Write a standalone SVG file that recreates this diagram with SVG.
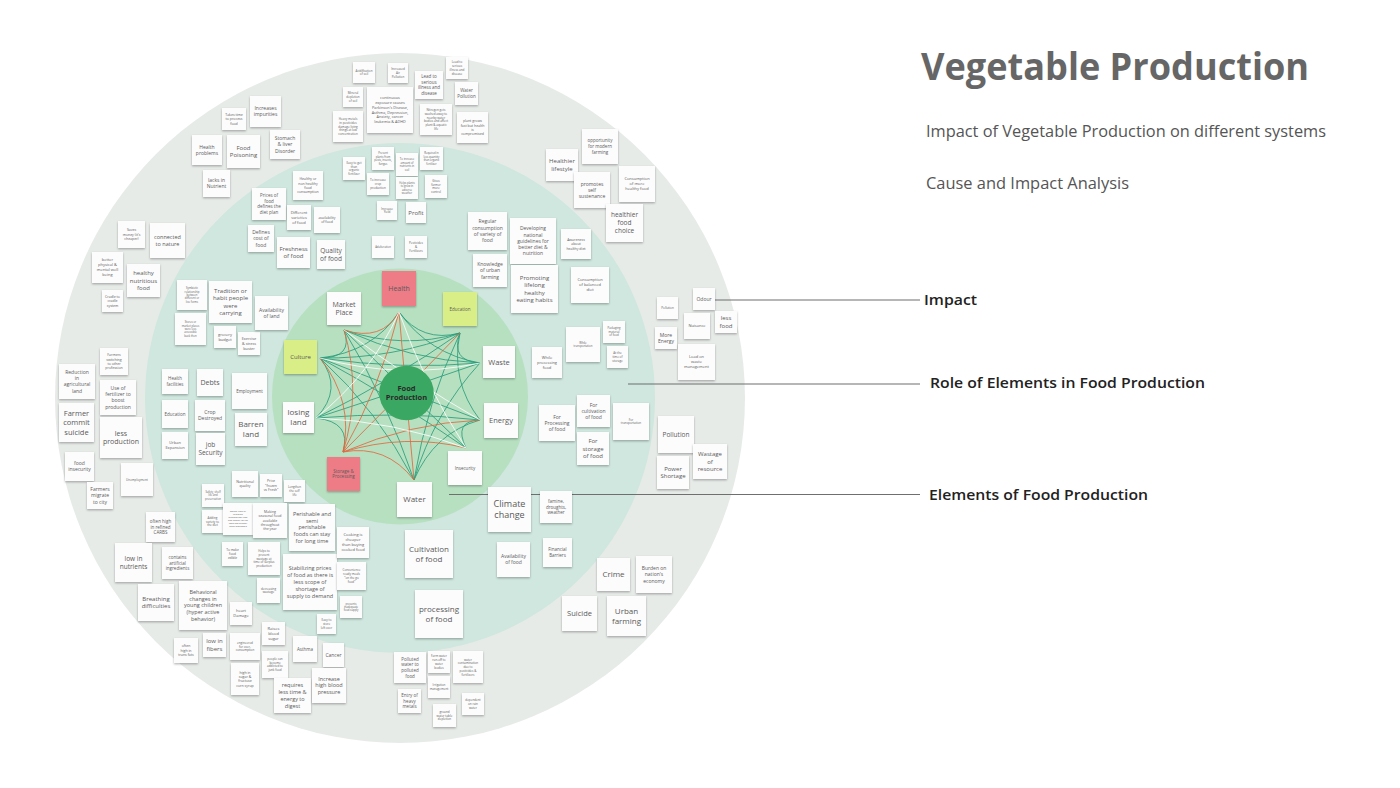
<svg xmlns="http://www.w3.org/2000/svg" width="1400" height="788" viewBox="0 0 1400 788">
<defs>
<filter id="sh" x="-20%" y="-20%" width="140%" height="150%"><feDropShadow dx="0" dy="1.2" stdDeviation="0.8" flood-color="#000" flood-opacity="0.3"/></filter>
<style>
.n rect{fill:#fcfcfc;filter:url(#sh)}
.n text{font-family:'Open Sans','Liberation Sans',sans-serif;fill:#5a5a5a;text-anchor:middle}
.red rect{fill:#ee7b86}
.yel rect{fill:#d9ee86}
.lbl{font-family:'Open Sans','Liberation Sans',sans-serif;fill:#222;font-weight:600;font-size:15px}
.sub{font-family:'Open Sans','Liberation Sans',sans-serif;fill:#555;font-size:16px}
.cl{stroke:#6f6f6f;stroke-width:1.2;fill:none}
.t{fill:none;stroke:#2a9d7a;stroke-width:1;opacity:.85}
.o{fill:none;stroke:#e0683f;stroke-width:1;opacity:.85}
.w{fill:none;stroke:#ffffff;stroke-width:1;opacity:.8}
</style>
</defs>
<rect width="1400" height="788" fill="#ffffff"/>
<g id="rings">
<circle cx="400" cy="398" r="345" fill="#e7ebe8"/>
<circle cx="400" cy="398" r="255" fill="#cfe7de"/>
<circle cx="400" cy="396.5" r="128" fill="#b7e0c1"/>
</g>
<g id="connectors">
<path class="t" d="M399,312 Q422,343 460,333"/>
<path class="t" d="M399,312 Q373,352 320,358"/>
<path class="t" d="M399,312 Q429,354 480,363"/>
<path class="t" d="M344,330 Q403,350 460,333"/>
<path class="t" d="M344,330 Q410,360 480,363"/>
<path class="t" d="M320,358 Q394,359 460,333"/>
<path class="t" d="M320,358 Q401,370 480,363"/>
<path class="t" d="M320,358 Q401,390 480,420"/>
<path class="t" d="M320,358 Q397,400 466,448"/>
<path class="t" d="M460,333 Q393,380 316,418"/>
<path class="t" d="M460,333 Q427,402 414,480"/>
<path class="t" d="M460,333 Q450,381 480,420"/>
<path class="t" d="M316,418 Q400,411 480,420"/>
<path class="t" d="M316,418 Q400,391 480,363"/>
<path class="t" d="M480,363 Q434,413 414,480"/>
<path class="t" d="M480,420 Q434,433 414,480"/>
<path class="t" d="M414,480 Q387,401 344,330"/>
<path class="t" d="M466,448 Q405,390 344,330"/>
<path class="t" d="M414,480 Q378,411 320,358"/>
<path class="t" d="M316,418 Q344,389 320,358"/>
<path class="t" d="M460,333 Q450,361 480,363"/>
<path class="t" d="M344,330 Q354,358 320,358"/>
<path class="t" d="M480,420 Q453,421 466,448"/>
<path class="t" d="M316,418 Q352,422 343,452"/>
<path class="o" d="M399,312 Q381,385 343,452"/>
<path class="o" d="M344,330 Q362,391 343,452"/>
<path class="o" d="M320,358 Q354,401 343,452"/>
<path class="o" d="M343,452 Q386,444 414,480"/>
<path class="o" d="M343,452 Q410,423 480,420"/>
<path class="o" d="M343,452 Q403,392 460,333"/>
<path class="o" d="M343,452 Q405,433 466,448"/>
<path class="o" d="M399,312 Q406,395 414,480"/>
<path class="o" d="M399,312 Q382,342 344,330"/>
<path class="w" d="M320,358 Q401,380 480,363"/>
<path class="w" d="M316,418 Q395,421 466,448"/>
<path class="w" d="M344,330 Q410,380 480,420"/>
<path class="w" d="M399,312 Q372,373 316,418"/>
<path class="w" d="M399,312 Q424,384 466,448"/>
<line class="cl" x1="700" y1="300" x2="920" y2="300"/>
<line class="cl" x1="628" y1="384" x2="920" y2="384"/>
<line class="cl" x1="449" y1="494.5" x2="920" y2="494.5"/>
</g>
<g id="center">
<circle cx="406.5" cy="393" r="27.3" fill="#3aa862"/>
<text x="406.5" y="393" font-family="'Open Sans','Liberation Sans',sans-serif" font-weight="700" font-size="7.5" fill="#2a2a2a" text-anchor="middle"><tspan x="406.5" dy="-.3em">Food</tspan><tspan x="406.5" dy="1.2em">Production</tspan></text>
</g>
<g id="titles">
<text x="921" y="80" font-family="'Open Sans','Liberation Sans',sans-serif" font-weight="700" font-size="38" fill="#666" textLength="388" lengthAdjust="spacingAndGlyphs">Vegetable Production</text>
<text class="sub" x="926" y="137" textLength="400" lengthAdjust="spacingAndGlyphs">Impact of Vegetable Production on different systems</text>
<text class="sub" x="926" y="189" textLength="203" lengthAdjust="spacingAndGlyphs">Cause and Impact Analysis</text>
<text class="lbl" x="924" y="305" textLength="53" lengthAdjust="spacingAndGlyphs">Impact</text>
<text class="lbl" x="930" y="388" textLength="275" lengthAdjust="spacingAndGlyphs">Role of Elements in Food Production</text>
<text class="lbl" x="929" y="500" textLength="219" lengthAdjust="spacingAndGlyphs">Elements of Food Production</text>
</g>
<g id="notes">
<g id="n1" class="n"><rect x="222" y="108" width="24" height="22"/><text x="234" y="119" font-size="3.5"><tspan x="234" dy="-.9em">Takes time</tspan><tspan x="234" dy="1.25em">to process</tspan><tspan x="234" dy="1.25em">food</tspan></text></g>
<g id="n2" class="n"><rect x="250" y="96" width="31" height="31"/><text x="265.5" y="111.5" font-size="5"><tspan x="265.5" dy="-.275em">Increases</tspan><tspan x="265.5" dy="1.25em">impurities</tspan></text></g>
<g id="n3" class="n"><rect x="270" y="130" width="30" height="29"/><text x="285" y="144.5" font-size="5"><tspan x="285" dy="-.9em">Stomach</tspan><tspan x="285" dy="1.25em">&amp; liver</tspan><tspan x="285" dy="1.25em">Disorder</tspan></text></g>
<g id="n4" class="n"><rect x="192" y="135" width="30" height="30"/><text x="207" y="150" font-size="5"><tspan x="207" dy="-.275em">Health</tspan><tspan x="207" dy="1.25em">problems</tspan></text></g>
<g id="n5" class="n"><rect x="227" y="135" width="33" height="33"/><text x="243.5" y="151.5" font-size="6"><tspan x="243.5" dy="-.275em">Food</tspan><tspan x="243.5" dy="1.25em">Poisoning</tspan></text></g>
<g id="n6" class="n"><rect x="203" y="170" width="27" height="27"/><text x="216.5" y="183.5" font-size="5"><tspan x="216.5" dy="-.275em">lacks in</tspan><tspan x="216.5" dy="1.25em">Nutrient</tspan></text></g>
<g id="n7" class="n"><rect x="118" y="221" width="27" height="27"/><text x="131.5" y="234.5" font-size="3.5"><tspan x="131.5" dy="-.9em">Saves</tspan><tspan x="131.5" dy="1.25em">money (it's</tspan><tspan x="131.5" dy="1.25em">cheaper)</tspan></text></g>
<g id="n8" class="n"><rect x="150" y="223" width="35" height="35"/><text x="167.5" y="240.5" font-size="5.5"><tspan x="167.5" dy="-.275em">connected</tspan><tspan x="167.5" dy="1.25em">to nature</tspan></text></g>
<g id="n9" class="n"><rect x="92" y="252" width="31" height="31"/><text x="107.5" y="267.5" font-size="4"><tspan x="107.5" dy="-1.525em">better</tspan><tspan x="107.5" dy="1.25em">physical &amp;</tspan><tspan x="107.5" dy="1.25em">mental well</tspan><tspan x="107.5" dy="1.25em">being</tspan></text></g>
<g id="n10" class="n"><rect x="127" y="264" width="33" height="33"/><text x="143.5" y="280.5" font-size="6"><tspan x="143.5" dy="-.9em">healthy</tspan><tspan x="143.5" dy="1.25em">nutritious</tspan><tspan x="143.5" dy="1.25em">food</tspan></text></g>
<g id="n11" class="n"><rect x="102" y="290" width="21" height="22"/><text x="112.5" y="301" font-size="3.5"><tspan x="112.5" dy="-.9em">Cradle to</tspan><tspan x="112.5" dy="1.25em">cradle</tspan><tspan x="112.5" dy="1.25em">system</tspan></text></g>
<g id="n12" class="n"><rect x="100" y="348" width="28" height="27"/><text x="114" y="361.5" font-size="3.5"><tspan x="114" dy="-1.525em">Farmers</tspan><tspan x="114" dy="1.25em">switching</tspan><tspan x="114" dy="1.25em">to other</tspan><tspan x="114" dy="1.25em">profession</tspan></text></g>
<g id="n13" class="n"><rect x="59" y="364" width="36" height="35"/><text x="77" y="381.5" font-size="5"><tspan x="77" dy="-1.525em">Reduction</tspan><tspan x="77" dy="1.25em">in</tspan><tspan x="77" dy="1.25em">agricultural</tspan><tspan x="77" dy="1.25em">land</tspan></text></g>
<g id="n14" class="n"><rect x="100" y="380" width="36" height="35"/><text x="118" y="397.5" font-size="5"><tspan x="118" dy="-1.525em">Use of</tspan><tspan x="118" dy="1.25em">fertilizer to</tspan><tspan x="118" dy="1.25em">boost</tspan><tspan x="118" dy="1.25em">production</tspan></text></g>
<g id="n15" class="n"><rect x="59" y="403" width="35" height="39"/><text x="76.5" y="422.5" font-size="7.5"><tspan x="76.5" dy="-.9em">Farmer</tspan><tspan x="76.5" dy="1.25em">commit</tspan><tspan x="76.5" dy="1.25em">suicide</tspan></text></g>
<g id="n16" class="n"><rect x="100" y="417" width="42" height="41"/><text x="121" y="437.5" font-size="7"><tspan x="121" dy="-.275em">less</tspan><tspan x="121" dy="1.25em">production</tspan></text></g>
<g id="n17" class="n"><rect x="65" y="452" width="29" height="29"/><text x="79.5" y="466.5" font-size="5"><tspan x="79.5" dy="-.275em">food</tspan><tspan x="79.5" dy="1.25em">insecurity</tspan></text></g>
<g id="n18" class="n"><rect x="121" y="463" width="32" height="33"/><text x="137" y="479.5" font-size="3"><tspan x="137" dy=".35em">Unemployment</tspan></text></g>
<g id="n19" class="n"><rect x="87" y="482" width="26" height="27"/><text x="100" y="495.5" font-size="5"><tspan x="100" dy="-.9em">Farmers</tspan><tspan x="100" dy="1.25em">migrate</tspan><tspan x="100" dy="1.25em">to city</tspan></text></g>
<g id="n20" class="n"><rect x="146" y="512" width="29" height="30"/><text x="160.5" y="527" font-size="4.5"><tspan x="160.5" dy="-.9em">often high</tspan><tspan x="160.5" dy="1.25em">in refined</tspan><tspan x="160.5" dy="1.25em">CARBS</tspan></text></g>
<g id="n21" class="n"><rect x="115" y="543" width="37" height="39"/><text x="133.5" y="562.5" font-size="6.5"><tspan x="133.5" dy="-.275em">low in</tspan><tspan x="133.5" dy="1.25em">nutrients</tspan></text></g>
<g id="n22" class="n"><rect x="162" y="547" width="31" height="32"/><text x="177.5" y="563" font-size="4.5"><tspan x="177.5" dy="-.9em">contains</tspan><tspan x="177.5" dy="1.25em">artificial</tspan><tspan x="177.5" dy="1.25em">ingredients</tspan></text></g>
<g id="n23" class="n"><rect x="138" y="584" width="36" height="37"/><text x="156" y="602.5" font-size="6"><tspan x="156" dy="-.275em">Breathing</tspan><tspan x="156" dy="1.25em">difficulties</tspan></text></g>
<g id="n24" class="n"><rect x="179" y="581" width="48" height="49"/><text x="203" y="605.5" font-size="5.5"><tspan x="203" dy="-2.15em">Behavioral</tspan><tspan x="203" dy="1.25em">changes in</tspan><tspan x="203" dy="1.25em">young children</tspan><tspan x="203" dy="1.25em">(hyper active</tspan><tspan x="203" dy="1.25em">behavior)</tspan></text></g>
<g id="n25" class="n"><rect x="230" y="602" width="22" height="23"/><text x="241" y="613.5" font-size="4"><tspan x="241" dy="-.275em">heart</tspan><tspan x="241" dy="1.25em">Damage</tspan></text></g>
<g id="n26" class="n"><rect x="262" y="622" width="23" height="23"/><text x="273.5" y="633.5" font-size="4"><tspan x="273.5" dy="-.9em">Raises</tspan><tspan x="273.5" dy="1.25em">blood</tspan><tspan x="273.5" dy="1.25em">sugar</tspan></text></g>
<g id="n27" class="n"><rect x="203" y="633" width="23" height="24"/><text x="214.5" y="645" font-size="6"><tspan x="214.5" dy="-.275em">low in</tspan><tspan x="214.5" dy="1.25em">fibers</tspan></text></g>
<g id="n28" class="n"><rect x="174" y="638" width="24" height="25"/><text x="186" y="650.5" font-size="3.5"><tspan x="186" dy="-.9em">often</tspan><tspan x="186" dy="1.25em">high in</tspan><tspan x="186" dy="1.25em">trans fats</tspan></text></g>
<g id="n29" class="n"><rect x="230" y="633" width="30" height="27"/><text x="245" y="646.5" font-size="3"><tspan x="245" dy="-.9em">engineered</tspan><tspan x="245" dy="1.25em">for over-</tspan><tspan x="245" dy="1.25em">consumption</tspan></text></g>
<g id="n30" class="n"><rect x="262" y="651" width="26" height="27"/><text x="275" y="664.5" font-size="3"><tspan x="275" dy="-1.525em">people can</tspan><tspan x="275" dy="1.25em">become</tspan><tspan x="275" dy="1.25em">addicted to</tspan><tspan x="275" dy="1.25em">junk food</tspan></text></g>
<g id="n31" class="n"><rect x="231" y="663" width="28" height="32"/><text x="245" y="679" font-size="3.5"><tspan x="245" dy="-1.525em">high in</tspan><tspan x="245" dy="1.25em">sugar &amp;</tspan><tspan x="245" dy="1.25em">fructose</tspan><tspan x="245" dy="1.25em">corn syrup</tspan></text></g>
<g id="n32" class="n"><rect x="274" y="678" width="37" height="35"/><text x="292.5" y="695.5" font-size="5.5"><tspan x="292.5" dy="-1.525em">requires</tspan><tspan x="292.5" dy="1.25em">less time &amp;</tspan><tspan x="292.5" dy="1.25em">energy to</tspan><tspan x="292.5" dy="1.25em">digest</tspan></text></g>
<g id="n33" class="n"><rect x="293" y="636" width="24" height="26"/><text x="305" y="649" font-size="4.5"><tspan x="305" dy=".35em">Asthma</tspan></text></g>
<g id="n34" class="n"><rect x="323" y="643" width="21" height="24"/><text x="333.5" y="655" font-size="5"><tspan x="333.5" dy=".35em">Cancer</tspan></text></g>
<g id="n35" class="n"><rect x="312" y="668" width="34" height="35"/><text x="329" y="685.5" font-size="5.5"><tspan x="329" dy="-.9em">Increase</tspan><tspan x="329" dy="1.25em">high blood</tspan><tspan x="329" dy="1.25em">pressure</tspan></text></g>
<g id="n36" class="n"><rect x="394" y="652" width="32" height="31"/><text x="410" y="667.5" font-size="4.5"><tspan x="410" dy="-1.525em">Polluted</tspan><tspan x="410" dy="1.25em">water to</tspan><tspan x="410" dy="1.25em">polluted</tspan><tspan x="410" dy="1.25em">food</tspan></text></g>
<g id="n37" class="n"><rect x="428" y="651" width="22" height="22"/><text x="439" y="662" font-size="3"><tspan x="439" dy="-1.525em">Farm water</tspan><tspan x="439" dy="1.25em">run-off to</tspan><tspan x="439" dy="1.25em">water</tspan><tspan x="439" dy="1.25em">bodies</tspan></text></g>
<g id="n38" class="n"><rect x="453" y="651" width="30" height="32"/><text x="468" y="667" font-size="3"><tspan x="468" dy="-2.15em">water</tspan><tspan x="468" dy="1.25em">contamination</tspan><tspan x="468" dy="1.25em">due to</tspan><tspan x="468" dy="1.25em">pesticides &amp;</tspan><tspan x="468" dy="1.25em">fertilizers</tspan></text></g>
<g id="n39" class="n"><rect x="428" y="676" width="22" height="22"/><text x="439" y="687" font-size="3"><tspan x="439" dy="-.275em">Irrigation</tspan><tspan x="439" dy="1.25em">management</tspan></text></g>
<g id="n40" class="n"><rect x="398" y="689" width="23" height="24"/><text x="409.5" y="701" font-size="4.5"><tspan x="409.5" dy="-.9em">Entry of</tspan><tspan x="409.5" dy="1.25em">heavy</tspan><tspan x="409.5" dy="1.25em">metals</tspan></text></g>
<g id="n41" class="n"><rect x="462" y="693" width="22" height="22"/><text x="473" y="704" font-size="3"><tspan x="473" dy="-.9em">dependent</tspan><tspan x="473" dy="1.25em">on rain</tspan><tspan x="473" dy="1.25em">water</tspan></text></g>
<g id="n42" class="n"><rect x="433" y="704" width="23" height="23"/><text x="444.5" y="715.5" font-size="3"><tspan x="444.5" dy="-.9em">ground</tspan><tspan x="444.5" dy="1.25em">water table</tspan><tspan x="444.5" dy="1.25em">depletion</tspan></text></g>
<g id="n43" class="n"><rect x="597" y="558" width="33" height="33"/><text x="613.5" y="574.5" font-size="8"><tspan x="613.5" dy=".35em">Crime</tspan></text></g>
<g id="n44" class="n"><rect x="636" y="556" width="36" height="37"/><text x="654" y="574.5" font-size="5"><tspan x="654" dy="-.9em">Burden on</tspan><tspan x="654" dy="1.25em">nation's</tspan><tspan x="654" dy="1.25em">economy</tspan></text></g>
<g id="n45" class="n"><rect x="562" y="596" width="35" height="35"/><text x="579.5" y="613.5" font-size="7.5"><tspan x="579.5" dy=".35em">Suicide</tspan></text></g>
<g id="n46" class="n"><rect x="607" y="596" width="39" height="40"/><text x="626.5" y="616" font-size="8"><tspan x="626.5" dy="-.275em">Urban</tspan><tspan x="626.5" dy="1.25em">farming</tspan></text></g>
<g id="n47" class="n"><rect x="658" y="416" width="36" height="37"/><text x="676" y="434.5" font-size="6.5"><tspan x="676" dy=".35em">Pollution</tspan></text></g>
<g id="n48" class="n"><rect x="657" y="456" width="32" height="33"/><text x="673" y="472.5" font-size="6"><tspan x="673" dy="-.275em">Power</tspan><tspan x="673" dy="1.25em">Shortage</tspan></text></g>
<g id="n49" class="n"><rect x="693" y="444" width="34" height="35"/><text x="710" y="461.5" font-size="6"><tspan x="710" dy="-.9em">Wastage</tspan><tspan x="710" dy="1.25em">of</tspan><tspan x="710" dy="1.25em">resource</tspan></text></g>
<g id="n50" class="n"><rect x="657" y="297" width="21" height="22"/><text x="667.5" y="308" font-size="3"><tspan x="667.5" dy=".35em">Pollution</tspan></text></g>
<g id="n51" class="n"><rect x="693" y="288" width="22" height="22"/><text x="704" y="299" font-size="5"><tspan x="704" dy=".35em">Odour</tspan></text></g>
<g id="n52" class="n"><rect x="684" y="313" width="26" height="26"/><text x="697" y="326" font-size="4"><tspan x="697" dy=".35em">Nuisance</tspan></text></g>
<g id="n53" class="n"><rect x="715" y="311" width="22" height="22"/><text x="726" y="322" font-size="6"><tspan x="726" dy="-.275em">less</tspan><tspan x="726" dy="1.25em">food</tspan></text></g>
<g id="n54" class="n"><rect x="655" y="327" width="22" height="22"/><text x="666" y="338" font-size="5"><tspan x="666" dy="-.275em">More</tspan><tspan x="666" dy="1.25em">Energy</tspan></text></g>
<g id="n55" class="n"><rect x="678" y="344" width="37" height="36"/><text x="696.5" y="362" font-size="4"><tspan x="696.5" dy="-.9em">Load on</tspan><tspan x="696.5" dy="1.25em">waste</tspan><tspan x="696.5" dy="1.25em">management</tspan></text></g>
<g id="n56" class="n"><rect x="582" y="129" width="36" height="35"/><text x="600" y="146.5" font-size="4.5"><tspan x="600" dy="-.9em">opportunity</tspan><tspan x="600" dy="1.25em">for modern</tspan><tspan x="600" dy="1.25em">farming</tspan></text></g>
<g id="n57" class="n"><rect x="546" y="149" width="32" height="32"/><text x="562" y="165" font-size="6"><tspan x="562" dy="-.275em">Healthier</tspan><tspan x="562" dy="1.25em">lifestyle</tspan></text></g>
<g id="n58" class="n"><rect x="574" y="172" width="36" height="36"/><text x="592" y="190" font-size="5"><tspan x="592" dy="-.9em">promotes</tspan><tspan x="592" dy="1.25em">self</tspan><tspan x="592" dy="1.25em">sustenance</tspan></text></g>
<g id="n59" class="n"><rect x="619" y="166" width="36" height="36"/><text x="637" y="184" font-size="4"><tspan x="637" dy="-.9em">Consumption</tspan><tspan x="637" dy="1.25em">of more</tspan><tspan x="637" dy="1.25em">healthy food</tspan></text></g>
<g id="n60" class="n"><rect x="606" y="204" width="37" height="38"/><text x="624.5" y="223" font-size="6.5"><tspan x="624.5" dy="-.9em">healthier</tspan><tspan x="624.5" dy="1.25em">food</tspan><tspan x="624.5" dy="1.25em">choice</tspan></text></g>
<g id="n61" class="n"><rect x="353" y="62" width="22" height="21"/><text x="364" y="72.5" font-size="3"><tspan x="364" dy="-.275em">Acidification</tspan><tspan x="364" dy="1.25em">of soil</tspan></text></g>
<g id="n62" class="n"><rect x="388" y="63" width="20" height="20"/><text x="398" y="73" font-size="3"><tspan x="398" dy="-.9em">Increased</tspan><tspan x="398" dy="1.25em">Air</tspan><tspan x="398" dy="1.25em">Pollution</tspan></text></g>
<g id="n63" class="n"><rect x="446" y="57" width="22" height="22"/><text x="457" y="68" font-size="3"><tspan x="457" dy="-1.525em">Lead to</tspan><tspan x="457" dy="1.25em">serious</tspan><tspan x="457" dy="1.25em">illness and</tspan><tspan x="457" dy="1.25em">disease</tspan></text></g>
<g id="n64" class="n"><rect x="415" y="71" width="28" height="28"/><text x="429" y="85" font-size="4.5"><tspan x="429" dy="-1.525em">Lead to</tspan><tspan x="429" dy="1.25em">serious</tspan><tspan x="429" dy="1.25em">illness and</tspan><tspan x="429" dy="1.25em">disease</tspan></text></g>
<g id="n65" class="n"><rect x="343" y="87" width="20" height="20"/><text x="353" y="97" font-size="3"><tspan x="353" dy="-.9em">Mineral</tspan><tspan x="353" dy="1.25em">depletion</tspan><tspan x="353" dy="1.25em">of soil</tspan></text></g>
<g id="n66" class="n"><rect x="367" y="87" width="46" height="46"/><text x="390" y="110" font-size="3.8"><tspan x="390" dy="-2.775em">continuous</tspan><tspan x="390" dy="1.25em">exposure causes</tspan><tspan x="390" dy="1.25em">Parkinson's Disease,</tspan><tspan x="390" dy="1.25em">Asthma, Depression,</tspan><tspan x="390" dy="1.25em">Anxiety, cancer</tspan><tspan x="390" dy="1.25em">leukemia &amp; ADHD</tspan></text></g>
<g id="n67" class="n"><rect x="455" y="82" width="23" height="23"/><text x="466.5" y="93.5" font-size="4.5"><tspan x="466.5" dy="-.275em">Water</tspan><tspan x="466.5" dy="1.25em">Pollution</tspan></text></g>
<g id="n68" class="n"><rect x="333" y="111" width="30" height="31"/><text x="348" y="126.5" font-size="3"><tspan x="348" dy="-2.15em">Heavy metals</tspan><tspan x="348" dy="1.25em">in pesticides</tspan><tspan x="348" dy="1.25em">damage living</tspan><tspan x="348" dy="1.25em">things at low</tspan><tspan x="348" dy="1.25em">concentration</tspan></text></g>
<g id="n69" class="n"><rect x="420" y="104" width="32" height="31"/><text x="436" y="119.5" font-size="3"><tspan x="436" dy="-2.775em">Nitrogen gets</tspan><tspan x="436" dy="1.25em">washed away to</tspan><tspan x="436" dy="1.25em">nearby water</tspan><tspan x="436" dy="1.25em">bodies and affect</tspan><tspan x="436" dy="1.25em">plant &amp; aquatic</tspan><tspan x="436" dy="1.25em">life</tspan></text></g>
<g id="n70" class="n"><rect x="457" y="112" width="31" height="31"/><text x="472.5" y="127.5" font-size="3.5"><tspan x="472.5" dy="-1.525em">plant grows</tspan><tspan x="472.5" dy="1.25em">fast but health</tspan><tspan x="472.5" dy="1.25em">is</tspan><tspan x="472.5" dy="1.25em">compromised</tspan></text></g>
<g id="n71" class="n"><rect x="252" y="188" width="34" height="32"/><text x="269" y="204" font-size="4.5"><tspan x="269" dy="-1.525em">Prices of</tspan><tspan x="269" dy="1.25em">food</tspan><tspan x="269" dy="1.25em">defines the</tspan><tspan x="269" dy="1.25em">diet plan</tspan></text></g>
<g id="n72" class="n"><rect x="248" y="225" width="26" height="27"/><text x="261" y="238.5" font-size="5"><tspan x="261" dy="-.9em">Defines</tspan><tspan x="261" dy="1.25em">cost of</tspan><tspan x="261" dy="1.25em">food</tspan></text></g>
<g id="n73" class="n"><rect x="277" y="237" width="33" height="31"/><text x="293.5" y="252.5" font-size="6"><tspan x="293.5" dy="-.275em">Freshness</tspan><tspan x="293.5" dy="1.25em">of food</tspan></text></g>
<g id="n74" class="n"><rect x="293" y="171" width="30" height="29"/><text x="308" y="185.5" font-size="3.5"><tspan x="308" dy="-1.525em">Healthy or</tspan><tspan x="308" dy="1.25em">non healthy</tspan><tspan x="308" dy="1.25em">food</tspan><tspan x="308" dy="1.25em">consumption</tspan></text></g>
<g id="n75" class="n"><rect x="287" y="205" width="24" height="25"/><text x="299" y="217.5" font-size="4"><tspan x="299" dy="-.9em">Different</tspan><tspan x="299" dy="1.25em">varieties</tspan><tspan x="299" dy="1.25em">of food</tspan></text></g>
<g id="n76" class="n"><rect x="314" y="207" width="26" height="26"/><text x="327" y="220" font-size="3.5"><tspan x="327" dy="-.275em">availability</tspan><tspan x="327" dy="1.25em">of food</tspan></text></g>
<g id="n77" class="n"><rect x="317" y="240" width="28" height="29"/><text x="331" y="254.5" font-size="6.5"><tspan x="331" dy="-.275em">Quality</tspan><tspan x="331" dy="1.25em">of food</tspan></text></g>
<g id="n78" class="n"><rect x="343" y="157" width="22" height="23"/><text x="354" y="168.5" font-size="3"><tspan x="354" dy="-1.525em">Easy to get</tspan><tspan x="354" dy="1.25em">than</tspan><tspan x="354" dy="1.25em">organic</tspan><tspan x="354" dy="1.25em">fertilizer</tspan></text></g>
<g id="n79" class="n"><rect x="372" y="147" width="22" height="23"/><text x="383" y="158.5" font-size="2.7"><tspan x="383" dy="-1.525em">Prevent</tspan><tspan x="383" dy="1.25em">plants from</tspan><tspan x="383" dy="1.25em">pests, insects,</tspan><tspan x="383" dy="1.25em">fungus</tspan></text></g>
<g id="n80" class="n"><rect x="396" y="153" width="22" height="23"/><text x="407" y="164.5" font-size="2.7"><tspan x="407" dy="-1.525em">To increase</tspan><tspan x="407" dy="1.25em">amount of</tspan><tspan x="407" dy="1.25em">nutrients in</tspan><tspan x="407" dy="1.25em">soil</tspan></text></g>
<g id="n81" class="n"><rect x="420" y="147" width="23" height="23"/><text x="431.5" y="158.5" font-size="2.7"><tspan x="431.5" dy="-1.525em">Required in</tspan><tspan x="431.5" dy="1.25em">less quantity</tspan><tspan x="431.5" dy="1.25em">than organic</tspan><tspan x="431.5" dy="1.25em">fertilizer</tspan></text></g>
<g id="n82" class="n"><rect x="367" y="173" width="22" height="22"/><text x="378" y="184" font-size="3"><tspan x="378" dy="-.9em">To increase</tspan><tspan x="378" dy="1.25em">crop</tspan><tspan x="378" dy="1.25em">production</tspan></text></g>
<g id="n83" class="n"><rect x="396" y="177" width="22" height="22"/><text x="407" y="188" font-size="2.7"><tspan x="407" dy="-1.525em">Helps plants</tspan><tspan x="407" dy="1.25em">to grow in</tspan><tspan x="407" dy="1.25em">adverse</tspan><tspan x="407" dy="1.25em">weather</tspan></text></g>
<g id="n84" class="n"><rect x="425" y="175" width="22" height="23"/><text x="436" y="186.5" font-size="3"><tspan x="436" dy="-1.525em">Gives</tspan><tspan x="436" dy="1.25em">farmer</tspan><tspan x="436" dy="1.25em">more</tspan><tspan x="436" dy="1.25em">control</tspan></text></g>
<g id="n85" class="n"><rect x="377" y="201" width="20" height="19"/><text x="387" y="210.5" font-size="3"><tspan x="387" dy="-.275em">Increase</tspan><tspan x="387" dy="1.25em">Yield</tspan></text></g>
<g id="n86" class="n"><rect x="406" y="202" width="20" height="21"/><text x="416" y="212.5" font-size="6"><tspan x="416" dy=".35em">Profit</tspan></text></g>
<g id="n87" class="n"><rect x="372" y="236" width="22" height="22"/><text x="383" y="247" font-size="2.7"><tspan x="383" dy=".35em">Adulteration</tspan></text></g>
<g id="n88" class="n"><rect x="405" y="236" width="22" height="22"/><text x="416" y="247" font-size="3"><tspan x="416" dy="-.9em">Pesticides</tspan><tspan x="416" dy="1.25em">&amp;</tspan><tspan x="416" dy="1.25em">Fertilizers</tspan></text></g>
<g id="n89" class="n"><rect x="468" y="212" width="39" height="38"/><text x="487.5" y="231" font-size="5"><tspan x="487.5" dy="-1.525em">Regular</tspan><tspan x="487.5" dy="1.25em">consumption</tspan><tspan x="487.5" dy="1.25em">of variety of</tspan><tspan x="487.5" dy="1.25em">food</tspan></text></g>
<g id="n90" class="n"><rect x="510" y="218" width="46" height="46"/><text x="533" y="241" font-size="5"><tspan x="533" dy="-2.15em">Developing</tspan><tspan x="533" dy="1.25em">national</tspan><tspan x="533" dy="1.25em">guidelines for</tspan><tspan x="533" dy="1.25em">better diet &amp;</tspan><tspan x="533" dy="1.25em">nutrition</tspan></text></g>
<g id="n91" class="n"><rect x="473" y="254" width="34" height="33"/><text x="490" y="270.5" font-size="5"><tspan x="490" dy="-.9em">Knowledge</tspan><tspan x="490" dy="1.25em">of urban</tspan><tspan x="490" dy="1.25em">farming</tspan></text></g>
<g id="n92" class="n"><rect x="511" y="265" width="47" height="48"/><text x="534.5" y="289" font-size="6"><tspan x="534.5" dy="-1.525em">Promoting</tspan><tspan x="534.5" dy="1.25em">lifelong</tspan><tspan x="534.5" dy="1.25em">healthy</tspan><tspan x="534.5" dy="1.25em">eating habits</tspan></text></g>
<g id="n93" class="n"><rect x="561" y="229" width="30" height="30"/><text x="576" y="244" font-size="3.5"><tspan x="576" dy="-.9em">Awareness</tspan><tspan x="576" dy="1.25em">about</tspan><tspan x="576" dy="1.25em">healthy diet</tspan></text></g>
<g id="n94" class="n"><rect x="571" y="267" width="38" height="36"/><text x="590" y="285" font-size="4"><tspan x="590" dy="-.9em">Consumption</tspan><tspan x="590" dy="1.25em">of balanced</tspan><tspan x="590" dy="1.25em">diet</tspan></text></g>
<g id="n95" class="n"><rect x="603" y="321" width="22" height="22"/><text x="614" y="332" font-size="2.8"><tspan x="614" dy="-.9em">Packaging</tspan><tspan x="614" dy="1.25em">material</tspan><tspan x="614" dy="1.25em">of food</tspan></text></g>
<g id="n96" class="n"><rect x="566" y="327" width="34" height="35"/><text x="583" y="344.5" font-size="2.8"><tspan x="583" dy="-.275em">While</tspan><tspan x="583" dy="1.25em">transportation</tspan></text></g>
<g id="n97" class="n"><rect x="607" y="346" width="21" height="22"/><text x="617.5" y="357" font-size="3"><tspan x="617.5" dy="-.9em">At the</tspan><tspan x="617.5" dy="1.25em">time of</tspan><tspan x="617.5" dy="1.25em">storage</tspan></text></g>
<g id="n98" class="n"><rect x="532" y="347" width="30" height="31"/><text x="547" y="362.5" font-size="4"><tspan x="547" dy="-.9em">While</tspan><tspan x="547" dy="1.25em">processing</tspan><tspan x="547" dy="1.25em">food</tspan></text></g>
<g id="n99" class="n"><rect x="577" y="395" width="33" height="32"/><text x="593.5" y="411" font-size="5"><tspan x="593.5" dy="-.9em">For</tspan><tspan x="593.5" dy="1.25em">cultivation</tspan><tspan x="593.5" dy="1.25em">of food</tspan></text></g>
<g id="n100" class="n"><rect x="539" y="405" width="36" height="36"/><text x="557" y="423" font-size="5"><tspan x="557" dy="-.9em">For</tspan><tspan x="557" dy="1.25em">Processing</tspan><tspan x="557" dy="1.25em">of food</tspan></text></g>
<g id="n101" class="n"><rect x="613" y="403" width="36" height="37"/><text x="631" y="421.5" font-size="3"><tspan x="631" dy="-.275em">For</tspan><tspan x="631" dy="1.25em">transportation</tspan></text></g>
<g id="n102" class="n"><rect x="577" y="432" width="32" height="33"/><text x="593" y="448.5" font-size="6"><tspan x="593" dy="-.9em">For</tspan><tspan x="593" dy="1.25em">storage</tspan><tspan x="593" dy="1.25em">of food</tspan></text></g>
<g id="n103" class="n"><rect x="540" y="491" width="32" height="32"/><text x="556" y="507" font-size="4.5"><tspan x="556" dy="-.9em">famine,</tspan><tspan x="556" dy="1.25em">droughts,</tspan><tspan x="556" dy="1.25em">weather</tspan></text></g>
<g id="n104" class="n"><rect x="488" y="487" width="43" height="45"/><text x="509.5" y="509.5" font-size="9"><tspan x="509.5" dy="-.275em">Climate</tspan><tspan x="509.5" dy="1.25em">change</tspan></text></g>
<g id="n105" class="n"><rect x="497" y="542" width="33" height="35"/><text x="513.5" y="559.5" font-size="5"><tspan x="513.5" dy="-.275em">Availability</tspan><tspan x="513.5" dy="1.25em">of food</tspan></text></g>
<g id="n106" class="n"><rect x="543" y="538" width="29" height="29"/><text x="557.5" y="552.5" font-size="4.5"><tspan x="557.5" dy="-.275em">Financial</tspan><tspan x="557.5" dy="1.25em">Barriers</tspan></text></g>
<g id="n107" class="n"><rect x="405" y="530" width="48" height="48"/><text x="429" y="554" font-size="8"><tspan x="429" dy="-.275em">Cultivation</tspan><tspan x="429" dy="1.25em">of food</tspan></text></g>
<g id="n108" class="n"><rect x="415" y="590" width="48" height="48"/><text x="439" y="614" font-size="8"><tspan x="439" dy="-.275em">processing</tspan><tspan x="439" dy="1.25em">of food</tspan></text></g>
<g id="n109" class="n"><rect x="177" y="280" width="30" height="30"/><text x="192" y="295" font-size="2.7"><tspan x="192" dy="-2.15em">Symbiotic</tspan><tspan x="192" dy="1.25em">relationship</tspan><tspan x="192" dy="1.25em">between</tspan><tspan x="192" dy="1.25em">different or</tspan><tspan x="192" dy="1.25em">live forms</tspan></text></g>
<g id="n110" class="n"><rect x="209" y="281" width="43" height="42"/><text x="230.5" y="302" font-size="6"><tspan x="230.5" dy="-1.525em">Tradition or</tspan><tspan x="230.5" dy="1.25em">habit people</tspan><tspan x="230.5" dy="1.25em">were</tspan><tspan x="230.5" dy="1.25em">carrying</tspan></text></g>
<g id="n111" class="n"><rect x="175" y="313" width="31" height="32"/><text x="190.5" y="329" font-size="2.7"><tspan x="190.5" dy="-2.15em">Stores or</tspan><tspan x="190.5" dy="1.25em">market places</tspan><tspan x="190.5" dy="1.25em">were less</tspan><tspan x="190.5" dy="1.25em">accessible</tspan><tspan x="190.5" dy="1.25em">back then</tspan></text></g>
<g id="n112" class="n"><rect x="214" y="326" width="22" height="22"/><text x="225" y="337" font-size="4"><tspan x="225" dy="-.275em">grocery</tspan><tspan x="225" dy="1.25em">budget</tspan></text></g>
<g id="n113" class="n"><rect x="238" y="332" width="22" height="23"/><text x="249" y="343.5" font-size="3.8"><tspan x="249" dy="-.9em">Exercise</tspan><tspan x="249" dy="1.25em">&amp; stress</tspan><tspan x="249" dy="1.25em">buster</tspan></text></g>
<g id="n114" class="n"><rect x="255" y="296" width="33" height="34"/><text x="271.5" y="313" font-size="5"><tspan x="271.5" dy="-.275em">Availability</tspan><tspan x="271.5" dy="1.25em">of land</tspan></text></g>
<g id="n115" class="n"><rect x="162" y="369" width="26" height="25"/><text x="175" y="381.5" font-size="4.5"><tspan x="175" dy="-.275em">Health</tspan><tspan x="175" dy="1.25em">facilities</tspan></text></g>
<g id="n116" class="n"><rect x="197" y="369" width="26" height="27"/><text x="210" y="382.5" font-size="7"><tspan x="210" dy=".35em">Debts</tspan></text></g>
<g id="n117" class="n"><rect x="232" y="373" width="35" height="36"/><text x="249.5" y="391" font-size="4.5"><tspan x="249.5" dy=".35em">Employment</tspan></text></g>
<g id="n118" class="n"><rect x="162" y="400" width="26" height="28"/><text x="175" y="414" font-size="4.5"><tspan x="175" dy=".35em">Education</tspan></text></g>
<g id="n119" class="n"><rect x="195" y="400" width="30" height="31"/><text x="210" y="415.5" font-size="5"><tspan x="210" dy="-.275em">Crop</tspan><tspan x="210" dy="1.25em">Destroyed</tspan></text></g>
<g id="n120" class="n"><rect x="235" y="413" width="32" height="33"/><text x="251" y="429.5" font-size="8"><tspan x="251" dy="-.275em">Barren</tspan><tspan x="251" dy="1.25em">land</tspan></text></g>
<g id="n121" class="n"><rect x="162" y="432" width="26" height="27"/><text x="175" y="445.5" font-size="4"><tspan x="175" dy="-.275em">Urban</tspan><tspan x="175" dy="1.25em">Expansion</tspan></text></g>
<g id="n122" class="n"><rect x="196" y="433" width="29" height="32"/><text x="210.5" y="449" font-size="6.5"><tspan x="210.5" dy="-.275em">job</tspan><tspan x="210.5" dy="1.25em">Security</tspan></text></g>
<g id="n123" class="n"><rect x="232" y="471" width="26" height="26"/><text x="245" y="484" font-size="3.5"><tspan x="245" dy="-.275em">Nutritional</tspan><tspan x="245" dy="1.25em">quality</tspan></text></g>
<g id="n124" class="n"><rect x="260" y="474" width="22" height="23"/><text x="271" y="485.5" font-size="3.5"><tspan x="271" dy="-.9em">Price</tspan><tspan x="271" dy="1.25em">"frozen</tspan><tspan x="271" dy="1.25em">vs Fresh"</tspan></text></g>
<g id="n125" class="n"><rect x="284" y="480" width="21" height="22"/><text x="294.5" y="491" font-size="3"><tspan x="294.5" dy="-.9em">Lengthen</tspan><tspan x="294.5" dy="1.25em">the self</tspan><tspan x="294.5" dy="1.25em">life</tspan></text></g>
<g id="n126" class="n"><rect x="202" y="484" width="22" height="23"/><text x="213" y="495.5" font-size="2.7"><tspan x="213" dy="-.9em">Safety, shelf</tspan><tspan x="213" dy="1.25em">life and</tspan><tspan x="213" dy="1.25em">preservation</tspan></text></g>
<g id="n127" class="n"><rect x="202" y="510" width="21" height="23"/><text x="212.5" y="521.5" font-size="3"><tspan x="212.5" dy="-.9em">Adding</tspan><tspan x="212.5" dy="1.25em">variety to</tspan><tspan x="212.5" dy="1.25em">the diet</tspan></text></g>
<g id="n128" class="n"><rect x="223" y="503" width="30" height="32"/><text x="238" y="519" font-size="2.4"><tspan x="238" dy="-2.775em">Saving time by</tspan><tspan x="238" dy="1.25em">reducing</tspan><tspan x="238" dy="1.25em">preparation time</tspan><tspan x="238" dy="1.25em">and energy as the</tspan><tspan x="238" dy="1.25em">food has already</tspan><tspan x="238" dy="1.25em">been processed</tspan></text></g>
<g id="n129" class="n"><rect x="253" y="503" width="34" height="35"/><text x="270" y="520.5" font-size="3.5"><tspan x="270" dy="-2.15em">Making</tspan><tspan x="270" dy="1.25em">seasonal food</tspan><tspan x="270" dy="1.25em">available</tspan><tspan x="270" dy="1.25em">throughout</tspan><tspan x="270" dy="1.25em">the year</tspan></text></g>
<g id="n130" class="n"><rect x="289" y="504" width="46" height="47"/><text x="312" y="527.5" font-size="5.5"><tspan x="312" dy="-2.15em">Perishable and</tspan><tspan x="312" dy="1.25em">semi</tspan><tspan x="312" dy="1.25em">perishable</tspan><tspan x="312" dy="1.25em">foods can stay</tspan><tspan x="312" dy="1.25em">for long time</tspan></text></g>
<g id="n131" class="n"><rect x="222" y="542" width="21" height="24"/><text x="232.5" y="554" font-size="3.2"><tspan x="232.5" dy="-.9em">To make</tspan><tspan x="232.5" dy="1.25em">food</tspan><tspan x="232.5" dy="1.25em">edible</tspan></text></g>
<g id="n132" class="n"><rect x="248" y="542" width="32" height="33"/><text x="264" y="558.5" font-size="3"><tspan x="264" dy="-2.15em">Helps to</tspan><tspan x="264" dy="1.25em">prevent</tspan><tspan x="264" dy="1.25em">wastage at</tspan><tspan x="264" dy="1.25em">time of surplus</tspan><tspan x="264" dy="1.25em">production</tspan></text></g>
<g id="n133" class="n"><rect x="283" y="554" width="54" height="56"/><text x="310" y="582" font-size="5.5"><tspan x="310" dy="-2.15em">Stabilizing prices</tspan><tspan x="310" dy="1.25em">of food as there is</tspan><tspan x="310" dy="1.25em">less scope of</tspan><tspan x="310" dy="1.25em">shortage of</tspan><tspan x="310" dy="1.25em">supply to demand</tspan></text></g>
<g id="n134" class="n"><rect x="337" y="527" width="32" height="31"/><text x="353" y="542.5" font-size="4"><tspan x="353" dy="-1.525em">Cooking is</tspan><tspan x="353" dy="1.25em">cheaper</tspan><tspan x="353" dy="1.25em">than buying</tspan><tspan x="353" dy="1.25em">cooked food</tspan></text></g>
<g id="n135" class="n"><rect x="337" y="562" width="29" height="28"/><text x="351.5" y="576" font-size="3"><tspan x="351.5" dy="-1.525em">Convenience</tspan><tspan x="351.5" dy="1.25em">ready meals</tspan><tspan x="351.5" dy="1.25em">"on the go</tspan><tspan x="351.5" dy="1.25em">food"</tspan></text></g>
<g id="n136" class="n"><rect x="257" y="578" width="23" height="25"/><text x="268.5" y="590.5" font-size="3"><tspan x="268.5" dy="-.275em">decreasing</tspan><tspan x="268.5" dy="1.25em">wastage</tspan></text></g>
<g id="n137" class="n"><rect x="340" y="596" width="22" height="22"/><text x="351" y="607" font-size="2.7"><tspan x="351" dy="-.9em">prevents</tspan><tspan x="351" dy="1.25em">inadequate</tspan><tspan x="351" dy="1.25em">food supply</tspan></text></g>
<g id="n138" class="n"><rect x="317" y="614" width="19" height="20"/><text x="326.5" y="624" font-size="3"><tspan x="326.5" dy="-.9em">Easy to</tspan><tspan x="326.5" dy="1.25em">store</tspan><tspan x="326.5" dy="1.25em">left over</tspan></text></g>
</g>
<g id="elements">
<g id="e-health" class="n red"><rect x="382" y="271" width="34" height="35"/><text x="399" y="288.5" font-size="7"><tspan x="399" dy=".35em">Health</tspan></text></g>
<g id="e-market" class="n"><rect x="327" y="292" width="34" height="33"/><text x="344" y="308.5" font-size="7"><tspan x="344" dy="-.275em">Market</tspan><tspan x="344" dy="1.25em">Place</tspan></text></g>
<g id="e-education" class="n yel"><rect x="443" y="292" width="34" height="34"/><text x="460" y="309" font-size="4.5"><tspan x="460" dy=".35em">Education</tspan></text></g>
<g id="e-culture" class="n yel"><rect x="284" y="340" width="33" height="34"/><text x="300.5" y="357" font-size="6"><tspan x="300.5" dy=".35em">Culture</tspan></text></g>
<g id="e-waste" class="n"><rect x="483" y="346" width="32" height="32"/><text x="499" y="362" font-size="7.5"><tspan x="499" dy=".35em">Waste</tspan></text></g>
<g id="e-land" class="n"><rect x="283" y="402" width="31" height="31"/><text x="298.5" y="417.5" font-size="8"><tspan x="298.5" dy="-.275em">losing</tspan><tspan x="298.5" dy="1.25em">land</tspan></text></g>
<g id="e-energy" class="n"><rect x="484" y="403" width="34" height="35"/><text x="501" y="420.5" font-size="7.5"><tspan x="501" dy=".35em">Energy</tspan></text></g>
<g id="e-storage" class="n red"><rect x="327" y="457" width="33" height="34"/><text x="343.5" y="474" font-size="4.5"><tspan x="343.5" dy="-.275em">Storage &amp;</tspan><tspan x="343.5" dy="1.25em">Processing</tspan></text></g>
<g id="e-insecurity" class="n"><rect x="448" y="451" width="34" height="34"/><text x="465" y="468" font-size="4.5"><tspan x="465" dy=".35em">Insecurity</tspan></text></g>
<g id="e-water" class="n"><rect x="397" y="482" width="35" height="35"/><text x="414.5" y="499.5" font-size="8"><tspan x="414.5" dy=".35em">Water</tspan></text></g>
</g>
</svg>
